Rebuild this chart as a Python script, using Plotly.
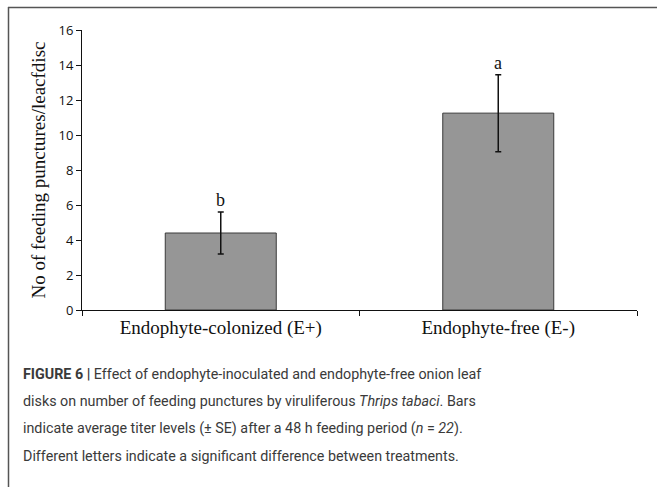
import plotly.graph_objects as go

categories = ["Endophyte-colonized (E+)", "Endophyte-free (E-)"]
means = [4.4, 11.25]
se = [1.2, 2.2]
letters = ["b", "a"]
y_ticks = [0, 2, 4, 6, 8, 10, 12, 14, 16]

caption_lines = [
    "<b>FIGURE 6 |</b> Effect of endophyte-inoculated and endophyte-free onion leaf",
    "disks on number of feeding punctures by viruliferous <i>Thrips tabaci</i>. Bars",
    "indicate average titer levels (± SE) after a 48 h feeding period (<i>n</i> = <i>22</i>).",
    "Different letters indicate a significant difference between treatments.",
]

W, H = 657, 487
L, R, T, B = 82, 20, 30, 177
pw, ph = W - L - R, H - T - B

def px_x(p):
    return (p - L) / pw

def px_y(p):
    return (H - B - p) / ph

fig = go.Figure()
fig.add_trace(go.Bar(
    x=categories, y=means, width=0.4,
    marker=dict(color="#969696", line=dict(color="#3a3a3a", width=1)),
    error_y=dict(type="data", array=se, visible=True, color="#111111", thickness=1.5, width=3),
    showlegend=False, hoverinfo="skip",
))

for c, m, s, l in zip(categories, means, se, letters):
    fig.add_annotation(x=c, y=m + s, text=l, showarrow=False, yanchor="bottom", yshift=0,
                       font=dict(family="Liberation Serif", size=18, color="#111111"))

# frame lines
fig.add_shape(type="line", xref="paper", yref="paper", x0=px_x(8), x1=px_x(660), y0=px_y(7.5), y1=px_y(7.5),
              line=dict(color="#555555", width=1.5), layer="above")
fig.add_shape(type="line", xref="paper", yref="paper", x0=px_x(8.5), x1=px_x(8.5), y0=px_y(7), y1=px_y(490),
              line=dict(color="#555555", width=1.5), layer="above")

for i, line in enumerate(caption_lines):
    fig.add_annotation(xref="paper", yref="paper", x=px_x(21), y=px_y(374 + i * 27.2), xanchor="left",
                       yanchor="middle", text=line, showarrow=False, align="left",
                       font=dict(family="Roboto", size=14.3, color="#3a3a3a"))

fig.update_layout(
    width=W, height=H, margin=dict(l=L, r=R, t=T, b=B),
    plot_bgcolor="white", paper_bgcolor="white",
    xaxis=dict(showline=True, linecolor="#111111", linewidth=1, ticks="outside", tickson="boundaries",
               ticklen=5, tickcolor="#111111", tickfont=dict(family="Liberation Serif", size=19, color="#111111"),
               showgrid=False),
    yaxis=dict(range=[0, 16], tickvals=y_ticks, showline=True, linecolor="#111111", linewidth=1,
               ticks="outside", ticklen=5, tickcolor="#111111", showgrid=False, zeroline=False,
               tickfont=dict(family="Open Sans", size=13, color="#111111"),
               title=dict(text="No of feeding punctures/leacfdisc", standoff=7,
                          font=dict(family="Liberation Serif", size=19, color="#111111"))),
)

fig.write_html("out.html", config={"displayModeBar": False},
               post_script="document.body.style.margin='0px';document.body.style.padding='0px';")
